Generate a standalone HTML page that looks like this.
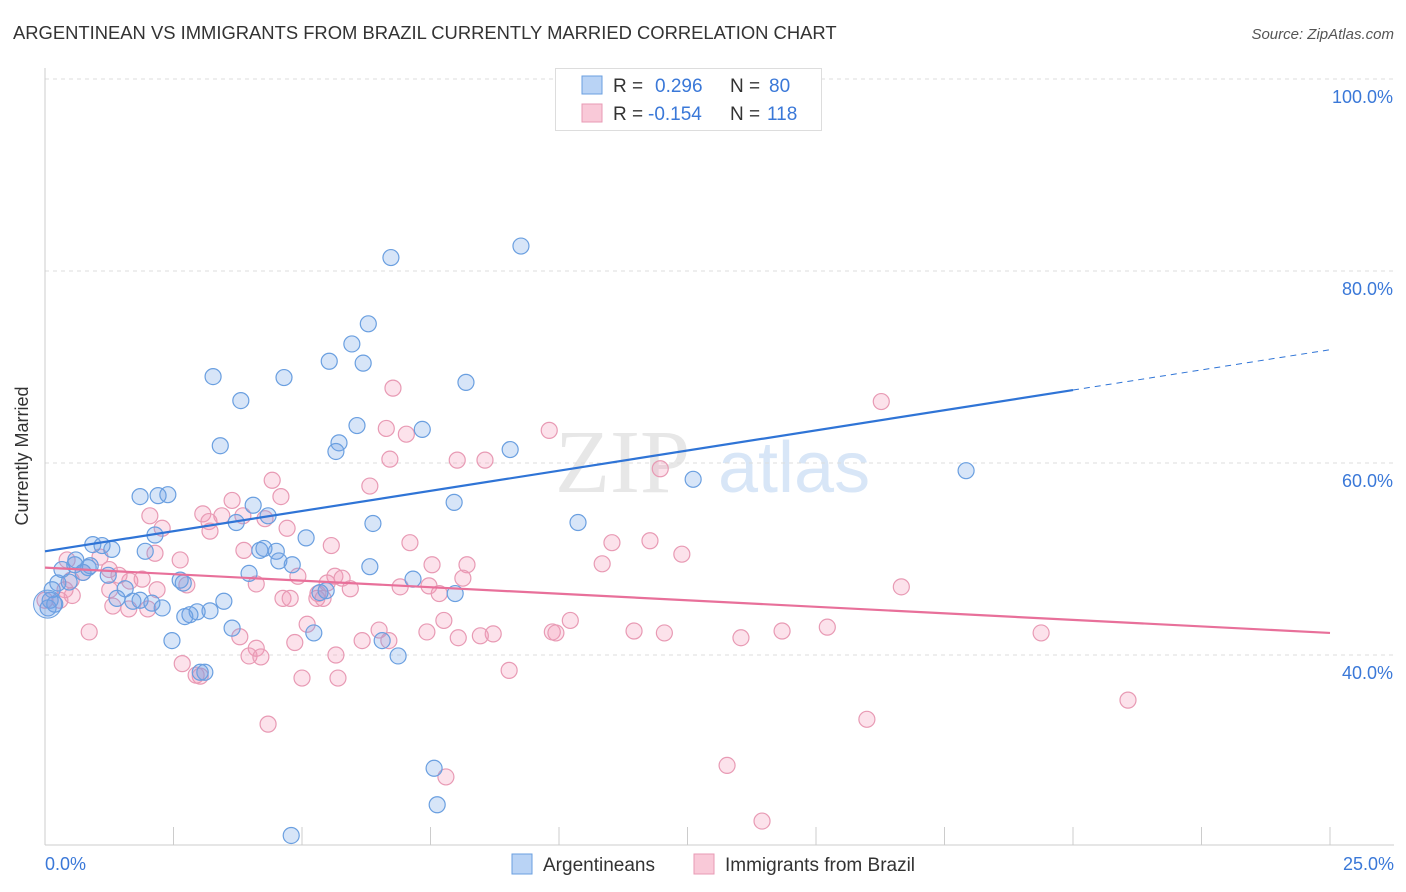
<!DOCTYPE html>
<html><head><meta charset="utf-8">
<style>
body{margin:0;background:#fff;font-family:"Liberation Sans",sans-serif;}
#wrap{position:relative;width:1406px;height:892px;overflow:hidden;}
</style></head>
<body><div id="wrap">
<svg id="svg" width="1406" height="892" xmlns="http://www.w3.org/2000/svg">
<text x="13" y="39" font-size="18.4" fill="#333">ARGENTINEAN VS IMMIGRANTS FROM BRAZIL CURRENTLY MARRIED CORRELATION CHART</text>
<text x="1394" y="39" font-size="15" fill="#555" font-style="italic" text-anchor="end">Source: ZipAtlas.com</text>
<text x="28" y="456" font-size="18" fill="#333" transform="rotate(-90 28 456)" text-anchor="middle">Currently Married</text>
<g><text x="555" y="492" font-size="90" fill="#ddd" font-family="Liberation Serif,serif" opacity="0.7">ZIP</text><text x="718" y="492" font-size="72" fill="#c8dcf4" opacity="0.7">atlas</text></g>
<g id="grid"></g><g id="marks"></g>
<g>
<rect x="555.5" y="68.5" width="266" height="62" fill="#fff" stroke="#ddd"/>
<rect x="582" y="76" width="20" height="18" fill="#b9d3f5" stroke="#6a9fe0"/>
<rect x="582" y="104" width="20" height="18" fill="#f9c9d8" stroke="#e89ab4"/>
<text x="613" y="92" font-size="19" fill="#333">R = <tspan fill="#3a78d8" x="655">0.296</tspan><tspan x="730">N = </tspan><tspan fill="#3a78d8" x="769">80</tspan></text>
<text x="613" y="120" font-size="19" fill="#333">R = <tspan fill="#3a78d8" x="648">-0.154</tspan><tspan x="730">N = </tspan><tspan fill="#3a78d8" x="767">118</tspan></text>
</g>
<g>
<rect x="512" y="854" width="20" height="20" fill="#b9d3f5" stroke="#6a9fe0"/>
<text x="543" y="871" font-size="19" fill="#333">Argentineans</text>
<rect x="694" y="854" width="20" height="20" fill="#f9c9d8" stroke="#e89ab4"/>
<text x="725" y="871" font-size="19" fill="#333">Immigrants from Brazil</text>
</g>
</svg>
<script>
const blueX=[9.26,6.73,6.29,5.97,5.53,6.19,8.19,3.27,4.65,3.81,7.34,6.07,5.72,5.66,9.05,3.41,17.92,12.61,1.85,2.20,2.39,7.96,4.05,4.34,6.38,3.72,10.37,5.08,2.14,0.93,1.11,1.30,1.95,4.18,4.50,4.26,4.55,0.60,0.88,0.74,1.23,3.97,6.32,7.16,2.63,2.69,0.47,0.25,1.56,1.40,1.71,3.48,2.28,3.21,2.96,2.82,2.72,3.64,5.23,2.47,6.56,6.87,3.11,3.02,7.98,4.81,5.35,5.47,0.14,0.10,0.06,0.19,7.57,7.63,4.79,0.33,0.58,0.84,1.85,2.08];
const blueY=[82.6,81.4,74.5,72.4,70.6,70.4,68.4,69.0,68.9,66.5,63.5,63.9,62.1,61.2,61.4,61.8,59.2,58.3,56.5,56.6,56.7,55.9,55.6,54.5,53.7,53.8,53.8,52.2,52.5,51.5,51.4,51.0,50.8,50.9,50.8,51.1,49.8,49.9,49.3,48.6,48.3,48.5,49.2,47.9,47.8,47.5,47.6,47.5,46.9,45.9,45.6,45.6,44.9,44.6,44.5,44.2,44.0,42.8,42.3,41.5,41.5,39.9,38.2,38.2,46.4,49.4,46.5,46.7,46.8,45.7,44.9,45.3,28.2,24.4,21.2,48.9,49.4,49.1,45.7,45.4];
const pinkX=[16.27,6.77,9.81,6.64,7.03,8.02,8.56,6.71,11.97,4.42,6.32,3.64,4.59,3.07,2.04,3.44,3.19,3.85,4.28,4.71,2.28,3.21,11.77,11.03,12.39,7.10,5.57,3.87,2.14,2.63,0.43,1.07,0.74,8.21,7.53,10.84,7.47,8.13,4.92,5.64,5.78,5.49,5.94,4.11,1.65,1.89,2.76,1.25,1.44,0.51,16.66,6.91,7.67,2.18,4.63,4.77,5.29,5.41,5.31,1.32,1.63,2.00,10.22,7.76,5.10,6.50,7.43,8.72,8.04,8.47,9.87,9.94,11.46,12.05,13.54,14.34,15.22,19.38,0.86,3.79,6.17,6.69,4.86,4.11,3.97,4.20,5.66,2.67,9.03,3.02,2.94,5.00,5.70,21.07,15.99,4.34,7.80,13.27,13.95,1.26,0.53,0.39,0.29,0.0];
const pinkY=[66.4,67.8,63.4,63.6,63.0,60.3,60.3,60.4,59.4,58.2,57.6,56.1,56.5,54.7,54.5,54.5,53.9,54.5,54.2,53.2,53.2,52.9,51.9,51.7,50.5,51.7,51.4,50.9,50.6,49.9,49.9,50.2,48.6,49.4,49.4,49.5,47.2,48.0,48.2,48.2,48.0,47.5,46.9,47.4,47.7,47.9,47.3,48.9,48.3,47.8,47.1,47.1,46.4,46.8,45.9,45.9,45.9,45.9,46.4,45.1,44.8,44.8,43.6,43.6,43.2,42.6,42.4,42.2,41.8,42.0,42.4,42.3,42.5,42.3,41.8,42.5,42.9,42.3,42.4,41.9,41.5,41.5,41.3,40.7,39.9,39.8,40.0,39.1,38.4,37.8,37.9,37.6,37.6,35.3,33.3,32.8,27.3,28.5,22.7,46.8,46.2,46.8,45.7,45.7];
const yTicks=[100,80,60,40];
const yTickLabels=["100.0%","80.0%","60.0%","40.0%"];
const xTicks=[0,2.5,5,7.5,10,12.5,15,17.5,20,22.5,25];
const blueTrend=[50.8,0.84];
const pinkTrend=[49.1,-0.272];
const NS="http://www.w3.org/2000/svg";
const xs=v=>45+v*51.4;
const ys=v=>79+(100-v)*9.6;
function mk(tag,attrs,parent){const e=document.createElementNS(NS,tag);for(const k in attrs)e.setAttribute(k,attrs[k]);parent.appendChild(e);return e;}
const grid=document.getElementById('grid'),marks=document.getElementById('marks');
yTicks.forEach((t,i)=>{
 const l=mk('line',{x1:45,x2:1394,y1:ys(t),y2:ys(t),stroke:'#ddd','stroke-dasharray':'4,4'},grid);
 
 
 const tx=mk('text',{x:1393,y:ys(t)+24,'font-size':18,fill:'#3a78d8','text-anchor':'end'},grid);
 tx.textContent=yTickLabels[i];
 
 
});
const ax=mk('line',{x1:45,x2:45,y1:68,y2:845,stroke:'#ccc'},grid);


const bx=mk('line',{x1:45,x2:1394,y1:845,y2:845,stroke:'#ccc'},grid);


xTicks.forEach(t=>{
 const l=mk('line',{x1:xs(t),x2:xs(t),y1:827,y2:845,stroke:'#ccc'},grid);
 
 
});
const xl0=mk('text',{x:45,y:870,'font-size':18,fill:'#3a78d8'},grid);xl0.textContent='0.0%';


const xl1=mk('text',{x:1394,y:870,'font-size':18,fill:'#3a78d8','text-anchor':'end'},grid);xl1.textContent='25.0%';


function pts(X,Y,fill,stroke,name){X.forEach((x,i)=>{
 const c=mk('circle',{cx:xs(x),cy:ys(Y[i]),r:8,fill:fill,stroke:stroke,'stroke-width':1.2},marks);
 
 
});}
pts(pinkX,pinkY,'rgba(244,150,182,0.28)','#e89ab4','brazil-point');
pts(blueX,blueY,'rgba(110,160,230,0.28)','#6a9fe0','argentinean-point');
const big=mk('circle',{cx:xs(0.05),cy:ys(45.3),r:14,fill:'rgba(110,160,230,0.25)',stroke:'#6a9fe0'},marks);


const b1=mk('line',{x1:xs(0),y1:ys(blueTrend[0]),x2:xs(20),y2:ys(blueTrend[0]+blueTrend[1]*20),stroke:'#2f74d6','stroke-width':2.2},marks);


const b2=mk('line',{x1:xs(20),y1:ys(blueTrend[0]+blueTrend[1]*20),x2:xs(25),y2:ys(blueTrend[0]+blueTrend[1]*25),stroke:'#2f74d6','stroke-width':1,'stroke-dasharray':'6,5'},marks);


const p1=mk('line',{x1:xs(0),y1:ys(pinkTrend[0]),x2:xs(25),y2:ys(pinkTrend[0]+pinkTrend[1]*25),stroke:'#e8709a','stroke-width':2.2},marks);


</script>
</div></body></html>
